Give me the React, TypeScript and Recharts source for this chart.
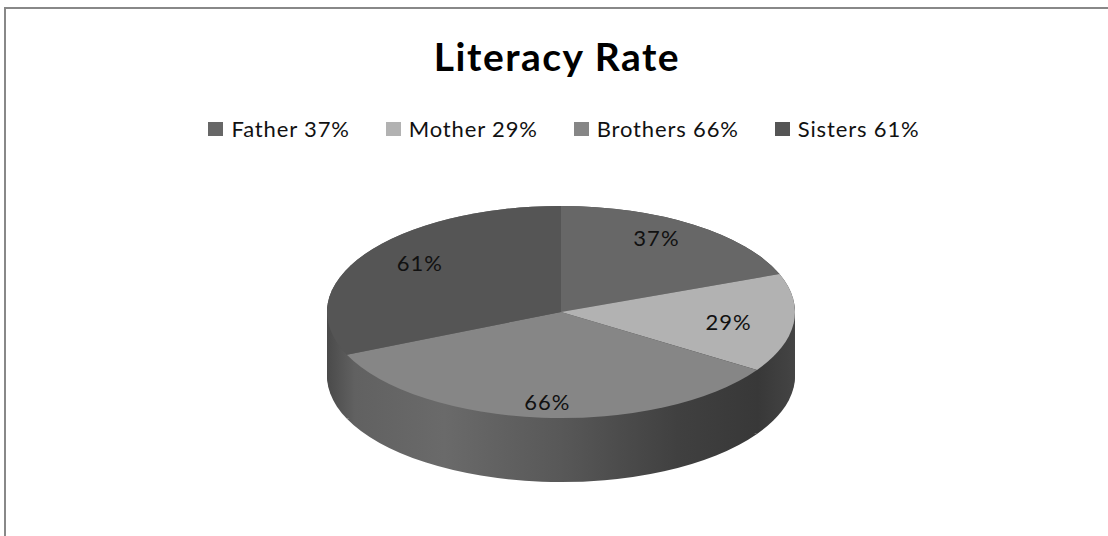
import { PieChart, Pie, Cell, Legend } from "recharts";

const categories = ["Father", "Mother", "Brothers", "Sisters"];
const literacy = [37, 29, 66, 61];
const sliceColors = ["#676767", "#b2b2b2", "#868686", "#555555"];

const data = categories.map((name, i) => ({ name, value: literacy[i] }));

// pie is drawn as a circle and squashed into an ellipse (fake 3D tilt)
const W = 1108;
const H = 536;
const CX = 561;
const CY = 312; // screen y of the pie centre
const R = 234;
const K = 106 / R;
const DEPTH = 64;
const sideSteps = Array.from({ length: DEPTH / 2 + 1 }, (_, i) => DEPTH - i * 2);

const FONT = "Lato, 'Open Sans', sans-serif";
const RAD = Math.PI / 180;

const renderLabel = (props: any) => {
  const { cx, cy, midAngle, outerRadius, value } = props;
  const x = cx + 0.72 * outerRadius * Math.cos(-midAngle * RAD);
  const y = (cy + 0.85 * outerRadius * Math.sin(-midAngle * RAD)) * K;
  return (
    <text
      x={x}
      y={y}
      textAnchor="middle"
      dominantBaseline="central"
      fill="#111"
      fontSize={22}
      letterSpacing={1}
      fontFamily={FONT}
    >
      {`${value}%`}
    </text>
  );
};

const LegendContent = () => (
  <div
    style={{
      display: "flex",
      justifyContent: "center",
      gap: 36,
      fontFamily: FONT,
      fontSize: 22,
      letterSpacing: 0.85,
      color: "#111",
      lineHeight: "24px",
      paddingLeft: 20,
    }}
  >
    {categories.map((name, i) => (
      <div key={name} style={{ display: "flex", alignItems: "center" }}>
        <span
          style={{
            display: "inline-block",
            width: 15,
            height: 14,
            background: sliceColors[i],
            marginRight: 8,
          }}
        />
        <span>{`${name} ${literacy[i]}%`}</span>
      </div>
    ))}
  </div>
);

const App = () => {
  return (
    <div
      style={{
        position: "absolute",
        left: 0,
        top: 0,
        width: W,
        height: H,
        overflow: "hidden",
        background: "#fff",
      }}
    >
      <style>{`.pie3d path.recharts-sector { transform: scaleY(${K}); transform-origin: 0 0; }`}</style>
      <div
        style={{
          position: "absolute",
          left: 4,
          top: 7,
          width: W + 100,
          height: H + 100,
          borderTop: "2px solid #888",
          borderLeft: "2px solid #888",
        }}
      />
      <svg
        width={W}
        height={90}
        style={{ position: "absolute", left: 0, top: 0 }}
      >
        <text
          x={557}
          y={71}
          textAnchor="middle"
          fontFamily={FONT}
          fontWeight="bold"
          fontSize={39}
          letterSpacing={1.5}
          fill="#000"
        >
          Literacy Rate
        </text>
      </svg>
      <div className="pie3d" style={{ position: "absolute", left: 0, top: 0 }}>
        <PieChart width={W} height={H} margin={{ top: 0, right: 0, bottom: 0, left: 0 }}>
          <defs>
            <linearGradient
              id="sideShade"
              gradientUnits="userSpaceOnUse"
              x1={CX - R}
              y1={0}
              x2={CX + R}
              y2={0}
            >
              <stop offset="0%" stopColor="#4a4a4a" />
              <stop offset="6%" stopColor="#616161" />
              <stop offset="25%" stopColor="#6a6a6a" />
              <stop offset="50%" stopColor="#585858" />
              <stop offset="75%" stopColor="#404040" />
              <stop offset="92%" stopColor="#383838" />
              <stop offset="100%" stopColor="#444444" />
            </linearGradient>
          </defs>
          {sideSteps.map((d) => (
            <Pie
              key={`side-${d}`}
              data={data}
              dataKey="value"
              nameKey="name"
              cx={CX}
              cy={(CY + d) / K}
              outerRadius={R}
              startAngle={90}
              endAngle={-270}
              stroke="none"
              legendType="none"
              isAnimationActive={false}
            >
              {data.map((entry) => (
                <Cell key={entry.name} fill="url(#sideShade)" />
              ))}
            </Pie>
          ))}
          <Pie
            data={data}
            dataKey="value"
            nameKey="name"
            cx={CX}
            cy={CY / K}
            outerRadius={R}
            startAngle={90}
            endAngle={-270}
            stroke="none"
            label={renderLabel}
            labelLine={false}
            isAnimationActive={false}
          >
            {data.map((entry, i) => (
              <Cell key={entry.name} fill={sliceColors[i]} />
            ))}
          </Pie>
          <Legend
            content={() => <LegendContent />}
            wrapperStyle={{ top: 117, left: 0, width: W }}
          />
        </PieChart>
      </div>
    </div>
  );
};

export default App;
